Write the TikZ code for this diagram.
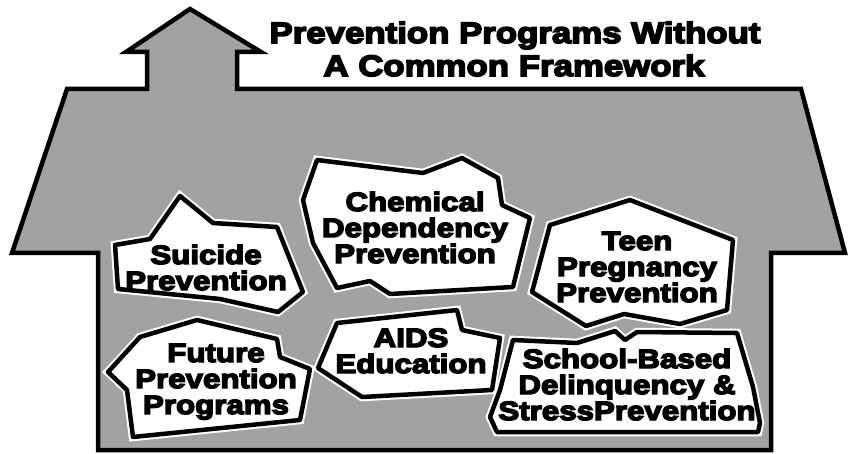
\documentclass[tikz,border=0pt]{standalone}
\usepackage{fontspec}
\newfontfamily\heavyfont{Liberation Sans}[FakeStretch=1.18,BoldFeatures={FakeBold=5.5}]
\definecolor{halftone}{HTML}{A2A2A2}
\tikzstyle{house}=[draw=black, line width=4.5pt, fill=halftone, line join=miter]
\tikzstyle{blob}=[draw=black, line width=4.5pt, fill=white, line join=round, preaction={draw=white, line width=8.5pt}]
\tikzstyle{program}=[anchor=base, align=center, inner sep=0, font=\heavyfont\bfseries\fontsize{26.5}{26}\selectfont]
\tikzstyle{heading}=[anchor=base, inner sep=0, font=\heavyfont\bfseries\fontsize{29.5}{32}\selectfont]

\begin{document}
\begin{tikzpicture}[x=1pt, y=-1pt]

\useasboundingbox (0, 0) rectangle (848, 454);

\draw [house] (190, 9) -- (261, 52)
        -- (237, 52) -- (237, 89)
        -- (801, 89) -- (845, 253)
        -- (771, 253) -- (771, 450)
        -- (98, 450) -- (98, 253)
        -- (12, 253) -- (67, 89)
        -- (147, 89) -- (147, 52)
        -- (126, 52) -- cycle;

\draw [blob] (317, 160) -- (423, 173) -- (462, 158) -- (498, 178)
        -- (502, 205) -- (530, 218) -- (513, 287) -- (390, 294)
        -- (370, 281) -- (337, 288) -- (313, 243) -- (303, 200) -- cycle;
\draw [blob] (180, 196) -- (213, 223) -- (277, 227) -- (303, 292)
        -- (278, 312) -- (220, 299) -- (118, 289) -- (115, 245)
        -- (150, 239) -- cycle;
\draw [blob] (197, 320) -- (277, 339) -- (280, 357) -- (310, 369)
        -- (300, 420) -- (133, 437) -- (127, 390) -- (108, 372)
        -- (140, 337) -- cycle;
\draw [blob] (337, 323) -- (457, 310) -- (462, 330) -- (500, 338)
        -- (492, 390) -- (362, 397) -- (318, 368) -- cycle;
\draw [blob] (630, 200) -- (733, 240) -- (727, 310) -- (680, 324)
        -- (624, 314) -- (586, 326) -- (532, 292) -- (550, 225) -- cycle;
\draw [blob] (513, 340) -- (577, 343) -- (615, 331) -- (625, 340)
        -- (637, 332) -- (737, 333) -- (753, 387) -- (760, 423)
        -- (758, 432) -- (497, 432) -- (490, 417) -- (500, 390) -- cycle;

\node [heading] (title1) at (515, 43) {Prevention Programs Without};
\node [heading] (title2) at (514, 76) {A Common Framework};

\node [program] (chemical) at (415, 263) {Chemical\\Dependency\\Prevention};
\node [program] (suicide) at (206, 290) {Suicide\\Prevention};
\node [program] (future) at (216, 414) {Future\\Prevention\\Programs};
\node [program] (aids) at (411, 373) {AIDS\\Education};
\node [program] (teen) at (637, 302) {Teen\\Pregnancy\\Prevention};
\node [program] (school) at (627, 420) {School-Based\\Delinquency \&\\StressPrevention};

\end{tikzpicture}
\end{document}
